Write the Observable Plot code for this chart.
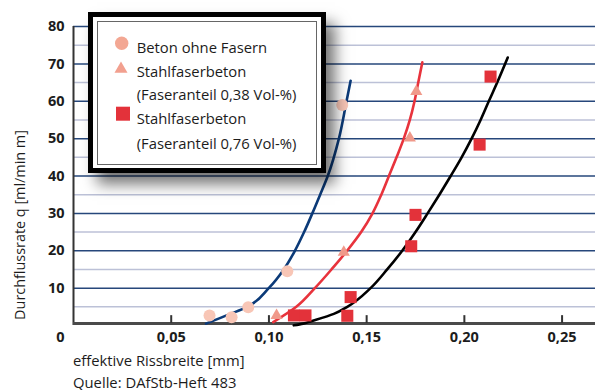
<!DOCTYPE html>
<html><head><meta charset="utf-8">
<script src="https://cdn.jsdelivr.net/npm/d3@7"></script>
<script src="https://cdn.jsdelivr.net/npm/@observablehq/plot@0.6"></script>
<style>
body{margin:0;background:#fff;font-family:"Open Sans",sans-serif;}
#wrap{position:relative;width:595px;height:390px;overflow:hidden;}
#chart svg{display:block}
.t{position:absolute;font-size:14.8px;color:#1c1c1c;white-space:nowrap;line-height:20px;}
#legend{position:absolute;left:88px;top:12px;width:238px;height:161px;box-sizing:border-box;border:5.5px solid #000;background:#fff;box-shadow:9px 11px 14px rgba(0,0,0,0.55);}
#legin{position:absolute;left:4px;top:3.5px;right:4px;bottom:3.5px;border:1px solid #666;}
.sym{position:absolute;}
</style>
</head><body>
<div id="wrap">
  <div id="chart"></div>
  <div id="legend"><div id="legin"></div></div>
  <div id="legitems"></div>
  <div class="t" id="ytitle" style="font-size:14.4px"></div>
  <div class="t" id="xtitle" style="left:73px;top:350px"></div>
  <div class="t" id="source" style="left:73px;top:373.5px;line-height:16px"></div>
</div>
<script>
// ---- data ----
const seriesNames = ["Beton ohne Fasern", "Stahlfaserbeton", "Stahlfaserbeton"];
const seriesNotes = ["", "(Faseranteil 0,38 Vol-%)", "(Faseranteil 0,76 Vol-%)"];

// measured points: Beton ohne Fasern (circles)
const circX = [0.0696, 0.0809, 0.0894, 0.1094, 0.1375];
const circY = [2.7, 2.2, 4.9, 14.5, 59.0];
// Stahlfaserbeton 0,38 Vol-% (triangles)
const triX = [0.1039, 0.1383, 0.1721, 0.1754];
const triY = [2.7, 19.6, 50.2, 62.6];
// Stahlfaserbeton 0,76 Vol-% (squares)
const sqX = [0.1128, 0.1187, 0.1401, 0.1418, 0.1728, 0.1750, 0.2078, 0.2134];
const sqY = [2.7, 2.7, 2.6, 7.6, 21.2, 29.6, 48.4, 66.6];

// fitted curves
const navyX = [0.0678, 0.0803, 0.0889, 0.0999, 0.1076, 0.1133, 0.1180, 0.1222, 0.1262, 0.1301, 0.1358, 0.1397, 0.1418];
const navyY = [0.5, 3.1, 5, 10, 15, 20, 25, 30, 35, 40, 50, 60, 65.5];
const redX = [0.1022, 0.1140, 0.1235, 0.1320, 0.1400, 0.1472, 0.1530, 0.1575, 0.1614, 0.1653, 0.1690, 0.1721, 0.1745, 0.1764, 0.1785];
const redY = [0.9, 5, 10, 15, 20, 25, 30, 35, 40, 45, 50, 55, 60, 65, 70.4];
const blackX = [0.1127, 0.1175, 0.1213, 0.1332, 0.1401, 0.1520, 0.1605, 0.1682, 0.1750, 0.1812, 0.1872, 0.1930, 0.1986, 0.2037, 0.2083, 0.2125, 0.2168, 0.2222];
const blackY = [0.05, 0.5, 1.1, 3.1, 5, 10, 15, 20, 25, 30, 35, 40, 45, 50, 55, 60, 65, 71.7];

const xTicks = [0.05, 0.10, 0.15, 0.20, 0.25];
const xTickLabels = ["0,05", "0,10", "0,15", "0,20", "0,25"];
const yTicks = [10, 20, 30, 40, 50, 60, 70, 80];
const yMinor = [5, 15, 25, 35, 45, 55, 65, 75];
const zeroLabel = ["0"];
const yTitle = "Durchflussrate q [ml/min m]";
const xTitle = "effektive Rissbreite [mm]";
const sourceText = "Quelle: DAfStb-Heft 483";

// ---- build ----
const zip = (xs, ys) => xs.map((x, i) => ({x, y: ys[i]}));
const fontStack = "'Open Sans', sans-serif";

const plot = Plot.plot({
  width: 595, height: 390,
  marginLeft: 73, marginRight: 0, marginTop: 26, marginBottom: 65,
  x: {domain: [0, 0.2671], axis: null},
  y: {domain: [0, 80], axis: null},
  style: {fontFamily: fontStack, fontSize: "14.5px", color: "#1c1c1c", background: "transparent", overflow: "visible"},
  marks: [
    Plot.ruleY(yMinor, {stroke: "#bcc1d7", strokeWidth: 1.4}),
    Plot.ruleY(yTicks, {stroke: "#26477b", strokeWidth: 1.5}),
    Plot.ruleX([0], {y1: 0, y2: 80, stroke: "#333", strokeWidth: 2}),
    Plot.ruleY([0], {stroke: "#4a4a4a", strokeWidth: 3, dy: -2}),
    Plot.ruleX(xTicks, {y1: 0, y2: 2.1, stroke: "#333", strokeWidth: 2, dy: -2}),
    Plot.text(xTicks, {x: d => d, y: 0, text: (d, i) => xTickLabels[i], dy: 12, fontWeight: "bold"}),
    Plot.text(yTicks, {x: 0, y: d => d, text: d => String(d), textAnchor: "end", dx: -9, fontWeight: "bold"}),
    Plot.text(zeroLabel, {x: 0, y: 0, text: d => d, dx: -13, dy: 12, fontWeight: "bold"}),
    Plot.line(zip(navyX, navyY), {x: "x", y: "y", stroke: "#0b3a78", strokeWidth: 2.6, curve: "monotone-y"}),
    Plot.line(zip(redX, redY), {x: "x", y: "y", stroke: "#e8333c", strokeWidth: 2.6, curve: "monotone-y"}),
    Plot.line(zip(blackX, blackY), {x: "x", y: "y", stroke: "#000", strokeWidth: 2.6, curve: "monotone-y"}),
    Plot.dot(zip(circX, circY), {x: "x", y: "y", r: 6, fill: "#f8c6b6"}),
    Plot.dot(zip(triX, triY), {x: "x", y: "y", r: 4.5, symbol: "triangle", fill: "#f0998a"}),
    Plot.dot(zip(sqX, sqY), {x: "x", y: "y", r: 6.8, symbol: "square", fill: "#e3323a"})
  ]
});
document.getElementById("chart").appendChild(plot);

// titles
const yt = document.getElementById("ytitle");
yt.textContent = yTitle;
yt.style.left = "19.5px"; yt.style.top = "225px";
yt.style.transform = "translate(-50%,-50%) rotate(-90deg)";
document.getElementById("xtitle").textContent = xTitle;
document.getElementById("source").textContent = sourceText;

// legend
const li = document.getElementById("legitems");
const rows = [
  {text: seriesNames[0], y: 46.7},
  {text: seriesNames[1], y: 71},
  {text: seriesNotes[1], y: 94.3},
  {text: seriesNames[2], y: 118.3},
  {text: seriesNotes[2], y: 142.7}
];
rows.forEach(r => {
  const d = document.createElement("div");
  d.className = "t";
  d.textContent = r.text;
  d.style.left = "136.7px";
  d.style.top = (r.y - 10) + "px";
  li.appendChild(d);
});
const syms = [
  `<svg class="sym" style="left:114px;top:36px" width="16" height="16"><circle cx="7.7" cy="7.3" r="6.7" fill="#f3a793"/></svg>`,
  `<svg class="sym" style="left:113px;top:60px" width="16" height="16"><path d="M8,1.5 L14.5,12.7 L1.5,12.7 Z" fill="#f2a08f"/></svg>`,
  `<svg class="sym" style="left:115px;top:106px" width="16" height="16"><rect x="1" y="0.7" width="14" height="14" fill="#e3323a"/></svg>`
];
li.insertAdjacentHTML("beforeend", syms.join(""));
</script>
</body></html>
